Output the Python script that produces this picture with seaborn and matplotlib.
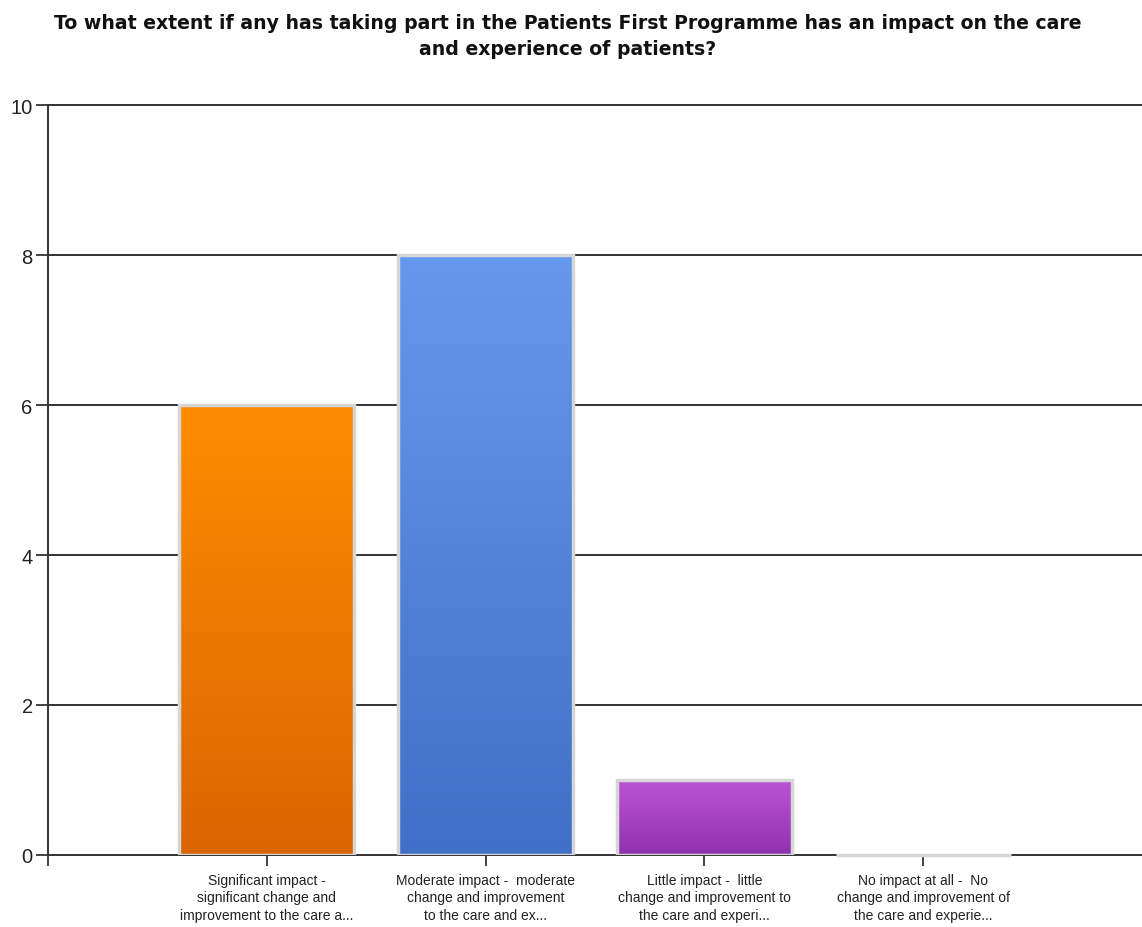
import numpy as np
import pandas as pd
import matplotlib
matplotlib.use("Agg")
import matplotlib.pyplot as plt
import seaborn as sns
from matplotlib.colors import LinearSegmentedColormap

title = ("To what extent if any has taking part in the Patients First Programme has an impact on the care\n"
         "and experience of patients?")
categories = [
    "Significant impact -\nsignificant change and\nimprovement to the care a...",
    "Moderate impact -  moderate\nchange and improvement\nto the care and ex...",
    "Little impact -  little\nchange and improvement to\nthe care and experi...",
    "No impact at all -  No\nchange and improvement of\nthe care and experie...",
]
values = [6, 8, 1, 0]
top_colors = ["#FF8C00", "#6699EE", "#BB55D5", "#D6D6D6"]
bottom_colors = ["#DB6500", "#3F6FC6", "#9130AE", "#D6D6D6"]
yticks = [0, 2, 4, 6, 8, 10]

sns.set_theme(style="white")
plt.rcParams['font.family'] = ['DejaVu Sans']

fig = plt.figure(figsize=(11.42, 9.28), dpi=100)
ax = fig.add_axes([48/1142, 72/928, 1 - 48/1142, (856-106)/928])

df = pd.DataFrame({"cat": categories, "val": values})
sns.barplot(data=df, x="cat", y="val", hue="cat", palette=top_colors, legend=False,
            width=0.8, edgecolor="#D6D6D6", linewidth=2.5, ax=ax, zorder=3)

ax.set_xlim(-1, 4)
ax.set_ylim(0, 10)
ax.set_yticks(yticks)
ax.set_yticklabels([str(v) for v in yticks], fontsize=14.5, color="#222222", family="Liberation Sans")
ax.set_xlabel("")
ax.set_ylabel("")
ax.set_xticks(range(len(categories)))
ax.set_xticklabels(categories, fontsize=10, color="#222222", family="Liberation Sans", linespacing=1.3)
ax.set_xticks([-1], minor=True)
ax.tick_params(axis="y", which="major", length=9, width=1.3, color="#333333", pad=2, left=True)
ax.tick_params(axis="x", which="both", length=8, width=1.3, color="#333333", pad=5, bottom=True)

for y in yticks[1:]:
    ax.axhline(y, color="#333333", lw=1.4, zorder=1, clip_on=False)

for s in ["top", "right"]:
    ax.spines[s].set_visible(False)
for s in ["left", "bottom"]:
    ax.spines[s].set_color("#333333")
    ax.spines[s].set_linewidth(1.4)
    ax.spines[s].set_zorder(2)

# gradient fills clipped to each bar
for patch, c1, c2 in zip(ax.patches, top_colors, bottom_colors):
    h = patch.get_height()
    if h <= 0:
        patch.set_zorder(5)
        patch.set_clip_on(False)
        continue
    x0 = patch.get_x()
    w = patch.get_width()
    cmap = LinearSegmentedColormap.from_list("g", [c1, c2])
    grad = np.linspace(0, 1, 256).reshape(-1, 1)
    im = ax.imshow(grad, cmap=cmap, aspect="auto", extent=[x0, x0 + w, 0, h],
                   origin="upper", zorder=3.5)
    im.set_clip_path(patch)
    patch.set_zorder(3.6)
    patch.set_facecolor("none")

ax.set_xlim(-1, 4)
ax.set_ylim(0, 10)

fig.text(0.497, 0.985, title, ha="center", va="top", fontsize=13.6, fontweight="bold",
         color="#111111", linespacing=1.45)

fig.savefig("out.png", dpi=100, facecolor="white")
